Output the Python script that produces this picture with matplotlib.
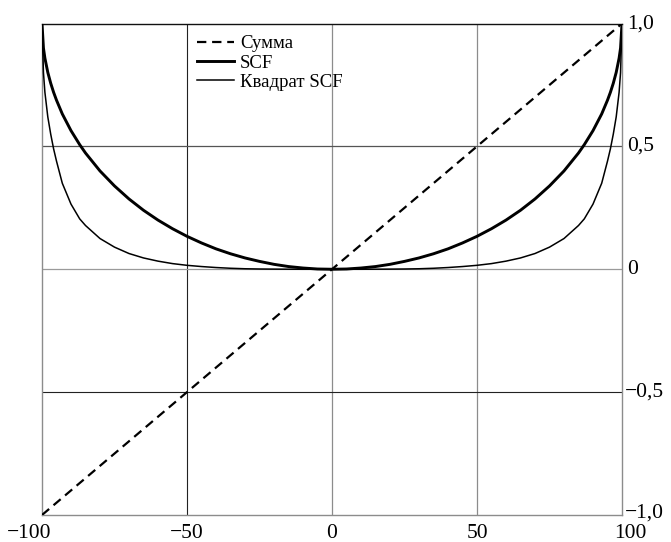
import matplotlib
matplotlib.use("Agg")
import matplotlib.pyplot as plt
from matplotlib.font_manager import FontProperties

plt.rcParams["font.family"] = ["Liberation Serif", "DejaVu Serif"]

# Diagonal "sum" line
sum_x = [-100, 100]
sum_y = [-1.0, 1.0]

# Half-range abscissas (left branch); right branch mirrors them
half_x = [-100, -99.5, -99, -98, -97, -96, -95, -93, -90, -87, -85, -80, -75,
          -70, -65, -60, -55, -50, -45, -40, -35, -30, -25, -20, -15, -10, -5, 0]

scf_half = [1.0, 0.900, 0.859, 0.801, 0.757, 0.720, 0.688, 0.632, 0.564, 0.507,
            0.473, 0.400, 0.339, 0.286, 0.240, 0.200, 0.165, 0.134, 0.107,
            0.083, 0.063, 0.046, 0.032, 0.020, 0.011, 0.005, 0.001, 0.0]

scf_sq_half = [1.0, 0.80, 0.72, 0.62, 0.55, 0.49, 0.44, 0.35, 0.265, 0.205,
               0.178, 0.125, 0.090, 0.064, 0.046, 0.033, 0.023, 0.016, 0.011,
               0.007, 0.004, 0.002, 0.001, 0.0005, 0.0002, 0.0, 0.0, 0.0]

x_ticks = [-100, -50, 0, 50, 100]
x_tick_labels = ["\u2212100", "\u221250", "0", "50", "100"]
y_ticks = [-1.0, -0.5, 0.0, 0.5, 1.0]
y_tick_labels = ["\u22121,0", "\u22120,5", "0", "0,5", "1,0"]

legend_labels = ["Сумма", "SCF", "Квадрат SCF"]

# Build full symmetric curves
x_full = half_x + [-v for v in half_x[-2::-1]]
scf_full = scf_half + scf_half[-2::-1]
scf_sq_full = scf_sq_half + scf_sq_half[-2::-1]

PX = 0.72  # points per pixel at 100 dpi

fig = plt.figure(figsize=(6.71, 5.42), dpi=100)
ax = fig.add_axes([42 / 671, 1 - 515 / 542, 580 / 671, 491.5 / 542])
ax.set_xlim(-100, 100)
ax.set_ylim(-1, 1)

# Grid lines
grid_dark = "#222222"
grid_light = "#8c8c8c"
ax.axvline(-50, color=grid_dark, lw=0.8, zorder=1)
ax.axvline(0, color=grid_light, lw=0.9, zorder=1)
ax.axvline(50, color=grid_light, lw=0.9, zorder=1)
ax.axhline(0.5, color="#555555", lw=0.9, zorder=1)
ax.axhline(0, color="#9a9a9a", lw=0.9, zorder=1)
ax.axhline(-0.5, color=grid_dark, lw=0.8, zorder=1)

for side in ["left", "bottom", "right"]:
    ax.spines[side].set_color("#8c8c8c")
    ax.spines[side].set_linewidth(1.0)
ax.spines["top"].set_color("#111111")
ax.spines["top"].set_linewidth(1.0)

l_sum, = ax.plot(sum_x, sum_y, color="black", lw=1.6, dashes=(4.2, 2.6),
                 zorder=3)
l_scf, = ax.plot(x_full, scf_full, color="black", lw=2.1, zorder=3)
l_sq, = ax.plot(x_full, scf_sq_full, color="black", lw=1.1, zorder=3)

ax.set_xticks([])
ax.set_yticks([])

tick_fs = 15.5
x_offsets = [(-13, -18), (0, -18), (0, -18), (0, -18), (8, -18)]
for xv, lab, (dx, dy) in zip(x_ticks, x_tick_labels, x_offsets):
    ax.annotate(lab, xy=(xv, 0), xycoords=("data", "axes fraction"),
                xytext=(dx * PX, dy * PX), textcoords="offset points",
                ha="center", va="center", fontsize=tick_fs)

y_offsets = [(3, 2), (3, 0), (5, 0), (5, 0), (5, -1)]
for yv, lab, (dx, dy) in zip(y_ticks, y_tick_labels, y_offsets):
    ax.annotate(lab, xy=(1, yv), xycoords=("axes fraction", "data"),
                xytext=(dx * PX, dy * PX), textcoords="offset points",
                ha="left", va="center", fontsize=tick_fs)

legend_font = FontProperties(family=["Liberation Serif", "DejaVu Serif"],
                             size=13.5)
ax.legend([l_sum, l_scf, l_sq], legend_labels, loc="upper left",
          bbox_to_anchor=((197 - 42) / 580, (515 - 35) / 491.5),
          frameon=False, prop=legend_font,
          handlelength=1.95, handletextpad=0.35, labelspacing=0.12,
          borderaxespad=0.0, borderpad=0.0)

fig.savefig("out.png", dpi=100)
